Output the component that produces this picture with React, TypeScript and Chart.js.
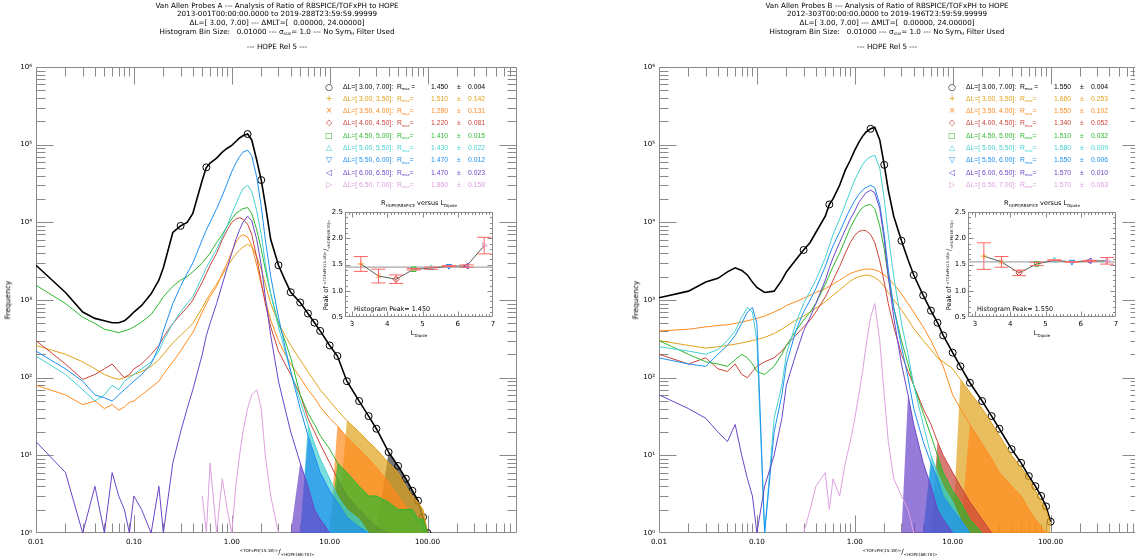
import React, { useEffect, useRef } from "react";
import { Chart, registerables } from "chart.js";
Chart.register(...registerables);

const FONT = "'Liberation Sans', Arial, sans-serif";
const DJ = "'DejaVu Sans', sans-serif";

// ---------------- DATA ----------------
// ratio bins (x values)
const BINS = [
  0.01, 0.02, 0.03, 0.04, 0.05, 0.06, 0.07, 0.08, 0.09, 0.1,
  0.12, 0.15, 0.18, 0.2, 0.25, 0.3, 0.35, 0.4, 0.5, 0.55,
  0.6, 0.7, 0.8, 0.9, 1.0, 1.1, 1.2, 1.3, 1.45, 1.6,
  1.8, 2.0, 2.2, 2.5, 3.0, 3.5, 4, 5, 6, 7,
  8, 10, 12, 15, 20, 25, 30, 40, 50, 60,
  70, 80, 90, 100,
];
const _ = null;

// Probe A frequencies
const A_ALL = [2800,1250,700,580,540,510,510,540,610,700, 850,1200,1800,2600,7400,9000,10000,13000,35000,51000, 58000,67000,80000,90000,98000,110000,122000,130000,137000,115000, 63000,35000,17000,6000,2800,1800,1260,930,670,510, 400,260,190,90,50,32,22,11,7.3,5, 3.5,2.6,1.6,1];
const A_L300 = [260,200,160,130,110,100,95,100,105,110, 120,140,170,200,280,350,420,500,800,1000, 1200,1600,2100,2700,3300,3900,4400,4800,5200,4900, 3600,2500,1600,900,500,350,260,170,120,90, 70,50,38,28,20,15,12,8,6,4, 3,2.5,2,1];
const A_L350 = [80,60,45,50,40,45,38,42,48,50, 60,75,90,110,160,220,300,380,700,900, 1100,1500,2200,3000,4200,5500,6500,6900,6500,5000, 2800,1600,1000,550,300,200,150,100,70,55, 42,30,24,17,12,9,7,4.5,3,2.2, 1.6,1.3,1,1];
const A_L400 = [300,150,95,110,130,150,120,100,110,130, 150,200,260,330,500,650,800,1000,1700,2200, 2800,4000,6000,8000,10000,11000,11500,11000,9500,7000, 3500,1700,900,450,220,150,110,60,30,20, 14,8,5,3,2,1.5,1.2,1,_,_, _,_,_,_];
const A_L450 = [1550,900,600,500,420,400,380,400,420,450, 520,650,900,1100,1500,1800,2000,2300,3000,3500, 4000,5500,7000,9000,11000,13000,14000,15000,15500,13000, 8000,4500,2500,1200,500,300,180,60,35,25, 18,12,8,6,4,3,3,2.5,2,2, 2,1.5,1.5,1];
const A_L500 = [190,110,70,50,60,80,70,90,100,110, 130,160,220,300,500,700,900,1100,2000,2600, 3200,4500,6500,9000,13000,17000,22000,27000,30000,25000, 14000,7000,3000,1200,450,220,120,50,25,14, 9,5,3,2,1.5,1,_,_,_,_, _,_,_,_];
const A_L550 = [220,130,90,60,55,50,60,70,80,90, 110,150,250,400,900,1500,2200,3000,6000,8000, 10000,15000,22000,32000,45000,58000,70000,80000,85000,72000, 38000,16000,6000,2000,600,250,120,40,18,10, 6,3.5,2.5,1.6,1.2,1,_,_,_,_, _,_,_,_];
const A_L600 = [15,6,1,4,1,6,3,2,1,3, 2,1,4,1,8,20,40,70,200,350, 500,900,1600,2600,4000,6000,8000,10000,12000,10500, 6000,2800,1100,350,90,40,20,8,4,2, 1.5,1,_,_,_,_,_,_,_,_, _,_,_,_];
const A_L650 = [_,_,_,_,_,_,_,_,_,_, _,_,_,_,_,_,_,_,3,1, 8,1,5,2,1,4,10,20,40,60, 70,40,10,3,1,_,_,_,_,_, _,_,_,_,_,_,_,_,_,_, _,_,_,_];

// Probe B frequencies
const B_ALL = [1070,1300,1700,1900,2300,2600,2400,2100,1700,1450, 1250,1300,1800,2300,3300,4400,5500,7400,12000,17000, 20000,30000,47000,63000,85000,107000,128000,145000,160000,167000, 115000,55000,26000,12000,5800,3300,2100,1150,730,510, 350,210,140,86,50,32,22,12,8,5.4, 4,3,2.2,1.4];
const B_L300 = [300,260,240,250,260,270,280,290,300,310, 330,370,420,460,550,620,700,780,950,1050, 1150,1350,1550,1750,1900,2000,2050,2100,2050,1950, 1750,1500,1250,1000,750,560,430,300,230,180, 160,130,95,65,40,26,18,10,7,5, 3.5,2.6,2,1.3];
const B_L350 = [400,420,450,470,480,500,520,540,560,580, 620,700,780,850,950,1050,1150,1250,1400,1500, 1600,1800,2000,2200,2300,2400,2450,2500,2500,2450, 2300,2100,1900,1600,1200,900,700,450,300,200, 140,60,40,25,14,9,6,4,3,2, 1.5,1.2,1,1];
const B_L400 = [200,150,180,130,120,150,110,100,120,140, 160,180,220,260,350,450,550,700,1100,1400, 1800,2700,4000,5500,6800,7600,7900,7800,7000,5500, 3200,1700,900,450,200,120,80,40,25,15, 10,6,4,2.5,1.5,1,_,_,_,_, _,_,_,_];
const B_L450 = [300,200,160,150,140,170,200,180,150,120, 110,140,200,260,400,550,700,900,1600,2100, 2700,4000,6000,8500,11000,13500,15500,16500,17000,15000, 9000,4500,2000,800,300,150,80,35,18,10, 6,3.5,2.5,1.5,1,_,_,_,_,_, _,_,_,_];
const B_L500 = [250,220,200,230,300,400,600,800,700,300, 1,30,80,200,500,900,1300,1800,3500,5000, 7000,11000,17000,25000,35000,45000,55000,63000,70000,73000, 50000,20000,7000,2000,500,200,80,25,10,6, 4,2.5,1.5,1,_,_,_,_,_,_, _,_,_,_];
const B_L550 = [180,150,140,200,260,350,500,700,800,500, 1,20,60,150,400,700,1000,1400,2700,3800, 5000,7500,11000,15000,19000,23000,26000,28000,30000,28000, 17000,7000,2500,800,250,100,40,15,8,5, 3,2,1.5,1,_,_,_,_,_,_, _,_,_,_];
const B_L600 = [60,40,30,20,15,25,10,5,3,1, 4,10,30,80,200,400,600,900,1800,2600, 3500,5500,8000,11000,14000,18000,21000,24000,26000,24000, 15000,6000,2000,600,150,60,25,8,4,2, 1.5,1,_,_,_,_,_,_,_,_, _,_,_,_];
const B_L650 = [_,_,_,_,_,_,_,_,_,_, _,_,_,_,_,1,2,4,6,2, 5,3,8,15,30,60,120,250,600,900, 300,60,15,5,3,2,1,_,_,_, _,_,_,_,_,_,_,_,_,_, _,_,_,_];

// legend / inset values
const SERIES_LABELS = [
  "ΔL=[ 3.00, 7.00]:", "ΔL=[ 3.00, 3.50]:", "ΔL=[ 3.50, 4.00]:", "ΔL=[ 4.00, 4.50]:",
  "ΔL=[ 4.50, 5.00]:", "ΔL=[ 5.00, 5.50]:", "ΔL=[ 5.50, 6.00]:", "ΔL=[ 6.00, 6.50]:", "ΔL=[ 6.50, 7.00]:",
];
const SERIES_SYMBOLS = ["○", "+", "×", "◇", "□", "△", "▽", "◁", "▷"];
const SERIES_COLORS = ["#000000", "#E0A21A", "#FF8A1E", "#C9443C", "#2EB82E", "#45D0D0", "#1E8FF0", "#6A45C8", "#DDA0E0"];
const RMAX_A = [1.45, 1.51, 1.28, 1.22, 1.41, 1.43, 1.47, 1.47, 1.86];
const ERR_A = [0.004, 0.142, 0.131, 0.081, 0.015, 0.022, 0.012, 0.023, 0.158];
const RMAX_B = [1.55, 1.66, 1.55, 1.34, 1.51, 1.58, 1.55, 1.57, 1.57];
const ERR_B = [0.004, 0.253, 0.102, 0.052, 0.032, 0.009, 0.006, 0.01, 0.063];
const L_CENTERS = [3.25, 3.75, 4.25, 4.75, 5.25, 5.75, 6.25, 6.75];

const X_TICKS = [0.01, 0.1, 1, 10, 100];
const X_TICK_LABELS = ["0.01", "0.10", "1.00", "10.00", "100.00"];
const Y_TICKS = [1, 10, 100, 1000, 10000, 100000, 1000000];
const Y_TICK_LABELS = ["10⁰", "10¹", "10²", "10³", "10⁴", "10⁵", "10⁶"];
const INSET_X_TICKS = [3, 4, 5, 6, 7];
const INSET_X_LABELS = ["3", "4", "5", "6", "7"];
const INSET_Y_TICKS = [0.5, 1.0, 1.5, 2.0, 2.5];
const INSET_Y_LABELS = ["0.5", "1.0", "1.5", "2.0", "2.5"];

const MARK_X = [0.3, 0.55, 1.45, 2.0, 3, 4, 5, 6, 7, 8, 10, 12, 15, 20, 25, 30, 40, 50, 60, 70, 80, 90, 100];

// ---------------- helpers ----------------
function logMinors(lo: number, hi: number) {
  const out: number[] = [];
  for (let d = Math.floor(Math.log10(lo)); d <= Math.ceil(Math.log10(hi)); d++)
    for (let k = 2; k <= 9; k++) {
      const v = k * Math.pow(10, d);
      if (v > lo && v < hi) out.push(v);
    }
  return out;
}
function linMinors(lo: number, hi: number, step: number) {
  const out: number[] = [];
  for (let v = lo; v <= hi + 1e-9; v += step) out.push(+v.toFixed(4));
  return out;
}
function hexA(hex: string, a: number) {
  const n = parseInt(hex.slice(1), 16);
  return `rgba(${(n >> 16) & 255},${(n >> 8) & 255},${n & 255},${a})`;
}

const idlFrame = {
  id: "idlFrame",
  beforeDatasetsDraw(chart: any, _a: any, o: any) {
    const { ctx, chartArea: a } = chart;
    const xs = chart.scales.x, ys = chart.scales.y;
    const L = Math.round(a.left) + 0.5, R = Math.round(a.right) - 0.5;
    const T = Math.round(a.top) + 0.5, B = Math.round(a.bottom) - 0.5;
    ctx.save();
    if (o.bg) { ctx.fillStyle = o.bg; ctx.fillRect(a.left, a.top, a.right - a.left, a.bottom - a.top); }
    ctx.strokeStyle = o.color;
    ctx.lineWidth = 1;
    ctx.beginPath();
    ctx.rect(L, T, R - L, B - T);
    const xt = (vals: number[], len: number) => vals.forEach((v) => {
      const p = Math.round(xs.getPixelForValue(v)) + 0.5;
      if (p < L - 0.6 || p > R + 0.6) return;
      ctx.moveTo(p, B); ctx.lineTo(p, B - len);
      ctx.moveTo(p, T); ctx.lineTo(p, T + len);
    });
    const yt = (vals: number[], len: number) => vals.forEach((v) => {
      const p = Math.round(ys.getPixelForValue(v)) + 0.5;
      if (p < T - 0.6 || p > B + 0.6) return;
      ctx.moveTo(L, p); ctx.lineTo(L + len, p);
      ctx.moveTo(R, p); ctx.lineTo(R - len, p);
    });
    xt(o.xMajor, o.majorLen); xt(o.xMinor, o.minorLen);
    yt(o.yMajor, o.majorLen); yt(o.yMinor, o.minorLen);
    ctx.stroke();
    ctx.restore();
  },
};

const errorBars = {
  id: "errorBars",
  afterDatasetsDraw(chart: any) {
    const { ctx } = chart;
    const xs = chart.scales.x, ys = chart.scales.y;
    chart.data.datasets.forEach((ds: any) => {
      if (!ds.errors) return;
      ctx.save();
      ctx.strokeStyle = "#FF6666";
      ctx.lineWidth = 1;
      ctx.beginPath();
      ds.data.forEach((p: any, i: number) => {
        const e = ds.errors[i];
        const x = xs.getPixelForValue(p.x);
        const y1 = ys.getPixelForValue(p.y - e), y2 = ys.getPixelForValue(p.y + e);
        ctx.moveTo(x, y1); ctx.lineTo(x, y2);
        ctx.moveTo(x - 7, y1); ctx.lineTo(x + 7, y1);
        ctx.moveTo(x - 7, y2); ctx.lineTo(x + 7, y2);
      });
      ctx.stroke();
      ctx.restore();
    });
  },
};

function T(props: any) {
  const { x, y, children, size = 7, color = "#000", align = "center", rot = 0, family = FONT } = props;
  const tx = align === "center" ? "-50%" : align === "right" ? "-100%" : "0";
  return (
    <div style={{
      position: "absolute", left: x, top: y, whiteSpace: "pre", fontSize: size, lineHeight: 1,
      color, fontFamily: family,
      transform: `translate(${tx},-50%)${rot ? ` rotate(${rot}deg)` : ""}`, transformOrigin: "center center",
    }}>{children}</div>
  );
}
const Sub = ({ children, s = 4.5 }: any) => <span style={{ fontSize: s, position: "relative", top: 1.5 }}>{children}</span>;
const Sup = ({ children, s = 4.5 }: any) => <span style={{ fontSize: s, position: "relative", top: -2.5 }}>{children}</span>;

const INSET_STYLES = ["cross", "crossRot", "rectRot", "rect", "triangle", "triangle", "triangle", "triangle"];
const INSET_ROT = [0, 0, 0, 0, 0, 180, -90, 90];

function Panel(props: any) {
  const { ox, lines, titleCx, series, rmax, err, fillFrom, freqX } = props;
  const mainRef = useRef<HTMLCanvasElement>(null);
  const insetRef = useRef<HTMLCanvasElement>(null);

  useEffect(() => {
    const datasets: any[] = [];
    series.forEach((vals: (number | null)[], k: number) => {
      const pts = BINS.map((x, i) => ({ x, y: vals[i] })).filter((p) => p.y != null);
      const color = SERIES_COLORS[k];
      const order = 100 - k * 2;
      if (fillFrom[k] != null) {
        const fp = pts.filter((p) => p.x >= fillFrom[k]).map((p, i) => (i === 0 ? { x: p.x, y: 1 } : p));
        datasets.push({
          data: fp, borderWidth: 0, pointRadius: 0,
          fill: "start", backgroundColor: hexA(color, k === 0 ? 0.55 : 0.7), order: order + 1,
        });
      }
      datasets.push({
        data: pts, borderColor: color, borderWidth: k === 0 ? 1.6 : 1, fill: false,
        pointRadius: k === 0 ? pts.map((p) => (MARK_X.includes(p.x) ? 3.5 : 0)) : 0,
        pointStyle: "circle", pointBorderColor: color, pointBackgroundColor: "rgba(0,0,0,0)",
        pointBorderWidth: 1, order,
      });
    });

    const main = new Chart(mainRef.current as HTMLCanvasElement, {
      type: "line",
      data: { datasets },
      plugins: [idlFrame as any],
      options: {
        animation: false, responsive: false, maintainAspectRatio: false,
        layout: { padding: { left: 0, top: 67, right: 43, bottom: 0 } },
        elements: { line: { tension: 0 } },
        plugins: {
          legend: { display: false }, tooltip: { enabled: false },
          idlFrame: {
            color: "#8a8a8a", majorLen: 17, minorLen: 9,
            xMajor: X_TICKS, xMinor: logMinors(0.01, 820), yMajor: Y_TICKS, yMinor: logMinors(1, 1e6),
          },
        } as any,
        scales: {
          x: {
            type: "logarithmic", min: 0.01, max: 820,
            grid: { display: false, drawTicks: false }, border: { display: false },
            afterBuildTicks: (s: any) => { s.ticks = X_TICKS.map((v) => ({ value: v })); },
            afterFit: (s: any) => { s.height = 25; },
            ticks: { autoSkip: false, maxRotation: 0, padding: 5, color: "#000", font: { family: DJ, size: 7.2 },
              callback: (_v: any, i: number) => X_TICK_LABELS[i] },
          },
          y: {
            type: "logarithmic", min: 1, max: 1e6,
            grid: { display: false, drawTicks: false }, border: { display: false },
            afterBuildTicks: (s: any) => { s.ticks = Y_TICKS.map((v) => ({ value: v })); },
            afterFit: (s: any) => { s.width = 36; },
            ticks: { autoSkip: false, padding: 4, color: "#000", font: { family: DJ, size: 7 },
              callback: (_v: any, i: number) => Y_TICK_LABELS[i] },
          },
        },
      } as any,
    });

    const inset = new Chart(insetRef.current as HTMLCanvasElement, {
      type: "line",
      data: {
        datasets: [
          { data: [{ x: 2.8, y: rmax[0] }, { x: 7.0, y: rmax[0] }], borderColor: "#A8A8A8", borderWidth: 1.3, pointRadius: 0, order: 2 },
          {
            data: L_CENTERS.map((x, i) => ({ x, y: rmax[i + 1] })), errors: err.slice(1),
            borderColor: "#56625A", borderWidth: 1, pointRadius: 3.2, pointStyle: INSET_STYLES,
            rotation: INSET_ROT, pointRotation: INSET_ROT, pointBorderColor: SERIES_COLORS.slice(1),
            pointBackgroundColor: "rgba(0,0,0,0)", pointBorderWidth: 1, order: 1,
          },
        ] as any,
      },
      plugins: [idlFrame as any, errorBars as any],
      options: {
        animation: false, responsive: false, maintainAspectRatio: false,
        layout: { padding: { left: 0, top: 16, right: 7, bottom: 0 } },
        elements: { line: { tension: 0 } },
        plugins: {
          legend: { display: false }, tooltip: { enabled: false },
          idlFrame: {
            color: "#8a8a8a", majorLen: 5, minorLen: 2.5, bg: "#ffffff",
            xMajor: INSET_X_TICKS, xMinor: linMinors(2.8, 7.0, 0.1), yMajor: INSET_Y_TICKS, yMinor: linMinors(0.5, 2.5, 0.1),
          },
        } as any,
        scales: {
          x: {
            type: "linear", min: 2.8, max: 7.0,
            grid: { display: false, drawTicks: false }, border: { display: false },
            afterBuildTicks: (s: any) => { s.ticks = INSET_X_TICKS.map((v) => ({ value: v })); },
            afterFit: (s: any) => { s.height = 29; },
            ticks: { autoSkip: false, maxRotation: 0, padding: 3, color: "#000", font: { family: DJ, size: 7 },
              callback: (_v: any, i: number) => INSET_X_LABELS[i] },
          },
          y: {
            type: "linear", min: 0.5, max: 2.5,
            grid: { display: false, drawTicks: false }, border: { display: false },
            afterBuildTicks: (s: any) => { s.ticks = INSET_Y_TICKS.map((v) => ({ value: v })); },
            afterFit: (s: any) => { s.width = 45; },
            ticks: { autoSkip: false, padding: 2, color: "#000", font: { family: DJ, size: 7 },
              callback: (_v: any, i: number) => INSET_Y_LABELS[i] },
          },
        },
      } as any,
    });
    return () => { main.destroy(); inset.destroy(); };
  }, []);

  const legendTop = 86.5, legendStep = 12.3;
  return (
    <>
      <canvas ref={mainRef} width={560} height={558}
        style={{ position: "absolute", left: ox, top: 0, width: 560, height: 558 }} />
      <canvas ref={insetRef} width={200} height={150}
        style={{ position: "absolute", left: ox + 300, top: 196, width: 200, height: 150 }} />
      {lines.map((l: any, i: number) => (
        <T key={i} x={titleCx} y={5.5 + i * 8.8} size={7.2} family={DJ}>{l}</T>
      ))}
      <T x={titleCx} y={47} size={7.2} family={DJ}>--- HOPE Rel 5 ---</T>
      <T x={freqX} y={300} size={7.5} rot={-90} family={DJ}>Frequency</T>
      <T x={ox + 277} y={552} size={7.2} family={DJ}>
        <Sup s={4.2}>&lt;TOFxPH(15:18)&gt;</Sup>/<Sub s={4.2}>&lt;HOPE(68:70)&gt;</Sub>
      </T>
      {SERIES_LABELS.map((lab, k) => {
        const y = legendTop + k * legendStep;
        const c = SERIES_COLORS[k];
        return (
          <React.Fragment key={k}>
            <T x={ox + 329} y={y} size={k === 0 ? 9 : 8} color={c} family={DJ}>{SERIES_SYMBOLS[k]}</T>
            <T x={ox + 343} y={y} size={6.8} color={c} align="left">{lab}</T>
            <T x={ox + 397} y={y} size={6.8} color={c} align="left">R<Sub s={4}>max</Sub>{k === 0 ? " =" : "="}</T>
            <T x={ox + 431} y={y} size={6.8} color={c} align="left">{rmax[k].toFixed(3)}</T>
            <T x={ox + 457} y={y} size={6.8} color={c} align="left">±</T>
            <T x={ox + 468} y={y} size={6.8} color={c} align="left">{err[k].toFixed(3)}</T>
          </React.Fragment>
        );
      })}
      <T x={ox + 419} y={203} size={6.5} family={DJ}>R<Sub s={4}>HOPE/RBSPICE</Sub> versus L<Sub s={4}>Dipole</Sub></T>
      <T x={ox + 419} y={333} size={6.5} family={DJ}>L<Sub s={4}>Dipole</Sub></T>
      <T x={ox + 326} y={265} size={6.5} rot={-90} family={DJ}>
        Peak of <Sup s={3.6}>&lt;TOFxPH(15:18)&gt;</Sup>/<Sub s={3.6}>&lt;HOPE(68:70)&gt;</Sub>
      </T>
      <T x={ox + 354} y={309} size={6.4} align="left" family={DJ}>Histogram Peak= {rmax[0].toFixed(3)}</T>
    </>
  );
}

const TITLE_A = [
  "Van Allen Probes A --- Analysis of Ratio of RBSPICE/TOFxPH to HOPE",
  "2013-001T00:00:00.0000 to 2019-288T23:59:59.99999",
  "ΔL=[ 3.00, 7.00] --- ΔMLT=[  0.00000, 24.00000]",
  <>Histogram Bin Size:   0.01000 --- σ<Sub s={4}>stat</Sub>= 1.0 --- No Sym<Sub s={4}>H</Sub> Filter Used</>,
];
const TITLE_B = [
  "Van Allen Probes B --- Analysis of Ratio of RBSPICE/TOFxPH to HOPE",
  "2012-303T00:00:00.0000 to 2019-196T23:59:59.99999",
  "ΔL=[ 3.00, 7.00] --- ΔMLT=[  0.00000, 24.00000]",
  <>Histogram Bin Size:   0.01000 --- σ<Sub s={4}>stat</Sub>= 1.0 --- No Sym<Sub s={4}>H</Sub> Filter Used</>,
];

const SERIES_A = [A_ALL, A_L300, A_L350, A_L400, A_L450, A_L500, A_L550, A_L600, A_L650];
const SERIES_B = [B_ALL, B_L300, B_L350, B_L400, B_L450, B_L500, B_L550, B_L600, B_L650];
const FILL_A = [30, 12, 10, 10, 10, 5, 5, 4, null];
const FILL_B = [null, 10, 12, 6, 6, 5, 5, 3, null];

export default function App() {
  return (
    <div style={{ position: "absolute", left: 0, top: 0, width: 1135, height: 558, overflow: "hidden", background: "#fff" }}>
      <Panel ox={0} lines={TITLE_A} titleCx={277} series={SERIES_A} rmax={RMAX_A} err={ERR_A} fillFrom={FILL_A} freqX={8} />
      <Panel ox={623} lines={TITLE_B} titleCx={887} series={SERIES_B} rmax={RMAX_B} err={ERR_B} fillFrom={FILL_B} freqX={636} />
    </div>
  );
}
